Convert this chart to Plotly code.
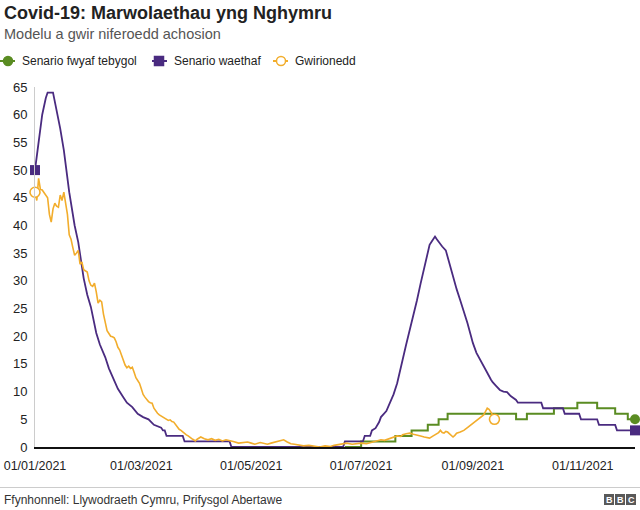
import plotly.graph_objects as go
import pandas as pd

# ---------------- data (day offsets from 01/01/2021) ----------------
START = pd.Timestamp("2021-01-01")
END_DAY = 333

worst_day = [0, 2, 4, 6, 7, 10, 12, 14, 16, 19, 22, 24, 27, 29, 31, 34, 36, 39, 41, 43,
             46, 49, 51, 54, 57, 60, 63, 66, 70, 71, 72, 73, 82, 83, 108, 109, 171, 172,
             182, 183, 186, 187, 189, 191, 192, 195, 197, 199, 201, 203, 204, 206, 208,
             210, 212, 214, 216, 218, 219, 220, 221, 222, 223, 224, 226, 228, 230, 232,
             234, 236, 238, 240, 242, 243, 245, 247, 249, 251, 253, 254, 256, 258, 260,
             262, 264, 265, 267, 268, 281, 282, 293, 294, 302, 303, 312, 313, 322, 323, 333]
worst_val = [50, 55, 60, 63, 64, 64, 61, 57.5, 53.6, 46, 40, 37, 30.5, 27.5, 25.3, 20.6, 18.5,
             16.2, 14.2, 12.6, 10.5, 9, 8, 7.2, 6, 5.4, 5, 4, 3.5, 3, 3, 2, 2, 1, 1, 0, 0, 1,
             1, 2, 2, 3, 3.4, 4.5, 5.4, 6.5, 8, 9.5, 11.5, 14, 15.7, 18.5, 21, 23.5, 26.5,
             29.5, 32.5, 35, 36.5, 37, 37.4, 38, 37.5, 37, 36.2, 35.5, 33, 30.7, 28.5, 26.5,
             24.5, 22.4, 20, 18.8, 17, 15.7, 14.5, 13.4, 12.2, 11.7, 11, 10.3, 10, 9.9, 9.2,
             9, 8.5, 8, 8, 7, 7, 6, 6, 5, 5, 4, 4, 3, 3]

likely_day = [172, 181, 200, 209, 218, 224, 229, 267, 273, 288, 301, 312, 322, 329, 333]
likely_val = [0, 1, 2, 3, 4, 5, 6, 5, 6, 7, 8, 7, 6, 5, 5]

actual_day = [0, 1, 2, 3, 4, 5, 6, 7, 8, 9, 10, 11, 12, 13, 14, 15, 16, 17, 18, 19, 20, 21,
              22, 23, 24, 25, 26, 27, 29, 30, 31, 32, 33, 34, 35, 36, 37, 38, 39, 40, 41, 42,
              43, 44, 45, 46, 47, 48, 49, 50, 51, 52, 53, 54, 55, 56, 57, 58, 59, 60, 61, 62,
              63, 64, 65, 66, 67, 68, 69, 70, 71, 72, 73, 74, 75, 76, 77, 78, 79, 80, 81, 82,
              83, 84, 85, 86, 87, 88, 89, 90, 92, 94, 96, 98, 100, 102, 104, 106, 108, 110,
              113, 115, 118, 120, 122, 125, 127, 129, 131, 134, 136, 138, 140, 142, 144, 146,
              149, 152, 155, 158, 161, 164, 166, 168, 171, 173, 176, 178, 181, 184, 186, 188,
              190, 192, 194, 197, 199, 201, 203, 204, 206, 208, 210, 212, 214, 216, 218, 219,
              221, 222, 224, 225, 226, 227, 228, 229, 231, 232, 233, 234, 236, 238, 240, 242,
              244, 246, 248, 249, 250, 251, 252, 253, 254, 255]
actual_val = [46, 44.5, 48.5, 46.5, 46.4, 46, 45.5, 45, 42, 40.6, 43, 44, 43.5, 43.3, 45.5,
              44.5, 46, 44, 42, 38.3, 37.5, 36, 34.6, 35, 35.5, 33, 33.4, 32, 31.6, 30, 29.2,
              29, 29.6, 28, 26, 26.5, 26.2, 24, 22.5, 21, 20.5, 20, 19.9, 19.7, 19, 18, 17.5,
              16.5, 15.5, 14.8, 14.3, 14.6, 14.2, 14.4, 13.5, 12.5, 12, 11.5, 10.5, 9.5, 9,
              8.5, 8.2, 8, 7.9, 7, 6.5, 6.1, 5.8, 5.6, 5.4, 5.2, 5, 4.8, 4.9, 4.6, 4.5, 4, 3.5,
              3.2, 3, 2.7, 2.5, 2.2, 2, 1.7, 1.5, 1.3, 1.1, 1.4, 1.8, 1.5, 1.3, 1.5, 1.2, 1.4,
              1.1, 1.3, 1.2, 1.0, 0.7, 0.8, 0.9, 0.7, 0.5, 0.8, 0.7, 0.5, 0.7, 0.9, 1.1, 1.3,
              0.9, 0.6, 0.5, 0.4, 0.2, 0.3, 0.1, 0, 0.2, 0.1, 0.3, 0.4, 0.5, 0.7, 0.5, 0.6,
              0.7, 0.6, 0.8, 0.9, 1.1, 1.3, 1.2, 1.6, 1.8, 2, 1.9, 2.2, 2.4, 2.5, 2.3, 2.2, 2,
              1.8, 1.7, 1.6, 2, 2.2, 2.6, 3, 2.6, 2.5, 2.8, 2.7, 2.2, 1.8, 2.1, 2.5, 2.7, 3,
              3.5, 4, 4.4, 4.9, 5.4, 5.8, 6.4, 7, 6.8, 6.3, 5.8, 5]

tick_dates = ["2021-01-01", "2021-03-01", "2021-05-01", "2021-07-01", "2021-09-01", "2021-11-01"]
y_ticks = list(range(0, 70, 5))

series_names = ["Senario fwyaf tebygol", "Senario waethaf", "Gwirionedd"]
title_text = "Covid-19: Marwolaethau yng Nghymru"
subtitle_text = "Modelu a gwir niferoedd achosion"
source_text = "Ffynhonnell: Llywodraeth Cymru, Prifysgol Abertawe"

# ---------------- styling ----------------
GREEN = "#5a8c22"
PURPLE = "#4a2b80"
YELLOW = "#f2ad2c"
FONT = "Liberation Sans, Arial, Helvetica, sans-serif"
W, H = 640, 510
L, R, T, B = 35, 5, 87, 63
PW, PH = W - L - R, H - T - B


def dates(days):
    return [START + pd.Timedelta(days=d) for d in days]


def xp(px):
    return (px - L) / PW


def yp(py):
    return (H - B - py) / PH


fig = go.Figure()
fig.add_trace(go.Scatter(x=dates(likely_day), y=likely_val, mode="lines",
                         line=dict(color=GREEN, width=2, shape="hv"),
                         name=series_names[0], showlegend=False, hoverinfo="skip"))
fig.add_trace(go.Scatter(x=dates(worst_day), y=worst_val, mode="lines",
                         line=dict(color=PURPLE, width=1.8),
                         name=series_names[1], showlegend=False, hoverinfo="skip"))
fig.add_trace(go.Scatter(x=dates(actual_day), y=actual_val, mode="lines",
                         line=dict(color=YELLOW, width=1.6),
                         name=series_names[2], showlegend=False, hoverinfo="skip"))

# end point markers
fig.add_trace(go.Scatter(x=dates([likely_day[-1]]), y=[likely_val[-1]], mode="markers",
                         marker=dict(color=GREEN, size=10, symbol="circle"),
                         cliponaxis=False, showlegend=False, hoverinfo="skip"))
fig.add_trace(go.Scatter(x=dates([worst_day[0], worst_day[-1]]), y=[worst_val[0], worst_val[-1]],
                         mode="markers", marker=dict(color=PURPLE, size=10, symbol="square"),
                         cliponaxis=False, showlegend=False, hoverinfo="skip"))
fig.add_trace(go.Scatter(x=dates([actual_day[0], actual_day[-1]]), y=[actual_val[0], actual_val[-1]],
                         mode="markers",
                         marker=dict(color="white", size=10, symbol="circle",
                                     line=dict(color=YELLOW, width=1.6)),
                         cliponaxis=False, showlegend=False, hoverinfo="skip"))

shapes = []
annotations = []

# title / subtitle
annotations.append(dict(text="<b>" + title_text + "</b>", xref="paper", yref="paper",
                        x=xp(2), y=yp(13), xanchor="left", yanchor="middle", showarrow=False,
                        font=dict(family=FONT, size=18, color="#222222")))
annotations.append(dict(text=subtitle_text, xref="paper", yref="paper",
                        x=xp(2), y=yp(34), xanchor="left", yanchor="middle", showarrow=False,
                        font=dict(family=FONT, size=14.5, color="#555555")))

# manual legend
legend_items = [(0, 15, 8, GREEN, "circle", GREEN, 20),
                (152, 167, 159, PURPLE, "square", PURPLE, 172),
                (273, 288, 281, YELLOW, "circle", "white", 293)]
LEG_Y = 61
for (x0, x1, xm, col, sym, fill, xt), name in zip(legend_items, series_names):
    shapes.append(dict(type="line", xref="paper", yref="paper", x0=xp(x0), x1=xp(x1),
                       y0=yp(LEG_Y), y1=yp(LEG_Y), line=dict(color=col, width=2)))
    shp = dict(type="circle" if sym == "circle" else "rect", xref="paper", yref="paper",
               xsizemode="pixel", ysizemode="pixel", xanchor=xp(xm), yanchor=yp(LEG_Y),
               x0=-4.5, x1=4.5, y0=-4.5, y1=4.5, fillcolor=fill,
               line=dict(color=col, width=1.5))
    shapes.append(shp)
    annotations.append(dict(text=name, xref="paper", yref="paper", x=xp(xt), y=yp(LEG_Y),
                            xanchor="left", yanchor="middle", showarrow=False,
                            font=dict(family=FONT, size=12, color="#222222")))

# footer
shapes.append(dict(type="line", xref="paper", yref="paper", x0=xp(0), x1=xp(640),
                   y0=yp(487.5), y1=yp(487.5), line=dict(color="#cccccc", width=1)))
annotations.append(dict(text=source_text, xref="paper", yref="paper", x=xp(2), y=yp(500),
                        xanchor="left", yanchor="middle", showarrow=False,
                        font=dict(family=FONT, size=12, color="#333333")))
for i, letter in enumerate("BBC"):
    bx0 = 604 + i * 11
    shapes.append(dict(type="rect", xref="paper", yref="paper", x0=xp(bx0), x1=xp(bx0 + 10),
                       y0=yp(505), y1=yp(494), fillcolor="#595959", line=dict(width=0)))
    annotations.append(dict(text="<b>" + letter + "</b>", xref="paper", yref="paper",
                            x=xp(bx0 + 5), y=yp(499.5), xanchor="center", yanchor="middle",
                            showarrow=False, font=dict(family=FONT, size=9, color="white")))

fig.update_layout(
    width=W, height=H,
    margin=dict(l=L, r=R, t=T, b=B, pad=0),
    paper_bgcolor="white", plot_bgcolor="white",
    font=dict(family=FONT, size=13, color="#222222"),
    showlegend=False,
    shapes=shapes, annotations=annotations,
    xaxis=dict(type="date", range=[START, START + pd.Timedelta(days=END_DAY)],
               tickvals=tick_dates, tickformat="%d/%m/%Y", showgrid=False,
               showline=True, linecolor="#111111", linewidth=1.5, ticks="",
               zeroline=False, tickfont=dict(size=12.5, color="#222222"),
               ticklabelstandoff=6, fixedrange=True),
    yaxis=dict(range=[0, 65], tickvals=y_ticks, showgrid=False, showline=True,
               linecolor="#cccccc", linewidth=1, ticks="", zeroline=False,
               tickfont=dict(size=13, color="#222222"), ticklabelstandoff=4,
               fixedrange=True),
)

fig.write_html("out.html", config={"displayModeBar": False},
               post_script="document.body.style.margin='0';document.body.style.overflow='hidden';")
